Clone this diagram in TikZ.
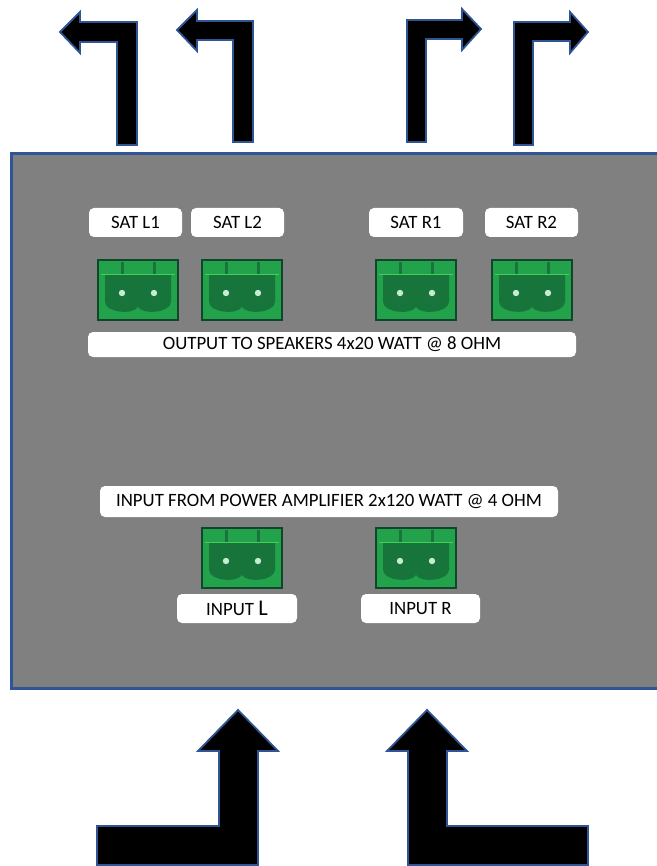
\documentclass[tikz,border=0pt]{standalone}
\usepackage{fontspec}
\setmainfont{Carlito}
\definecolor{edgeblue}{HTML}{2F5597}
\definecolor{boxgray}{HTML}{808080}
\definecolor{tgreen}{HTML}{22A24A}
\definecolor{tdark}{HTML}{17743A}
\definecolor{tborder}{HTML}{12462A}
\definecolor{tdot}{HTML}{C9EBD3}
\begin{document}
\begin{tikzpicture}[x=1pt,y=-1pt,
  bigarrow/.style={fill=black,draw=edgeblue,line width=1.8pt,line join=miter},
  lbl/.style={fill=white,rounded corners=5pt,inner sep=0pt,font=\fontsize{18.8}{21}\selectfont,text=black},
  term/.pic={
    \fill[tgreen,draw=tborder,line width=1.2pt] (0,0) rectangle (80,60);
    \fill[tdark] (7,15) -- (73,15) -- (73,42)
      .. controls (72,53) and (45,55) .. (40,47)
      .. controls (35,55) and (8,53) .. (7,42) -- cycle;
    \draw[green!60!white,opacity=0.5,line width=0.6pt] (3,14) -- (77,14);
    \fill[tdark] (23,2) rectangle (26,14);
    \fill[tdark] (55,2) rectangle (58,14);
    \fill[tdot] (24,33) circle (3.2);
    \fill[tdot] (56,33) circle (3.2);
  }]
\useasboundingbox (0,0) rectangle (656,866);

% main gray panel
\draw[fill=boxgray,draw=edgeblue,line width=3pt] (11,154) rectangle (662,688);

% top arrows
\draw[bigarrow] (60,32) -- (80,12) -- (80,22) -- (137,22) -- (137,145) -- (117,145) -- (117,42) -- (80,42) -- (80,53) -- cycle;
\draw[bigarrow] (177,30) -- (197,10) -- (197,21) -- (253,21) -- (253,142) -- (233,142) -- (233,40) -- (197,40) -- (197,51) -- cycle;
\draw[bigarrow] (481,29) -- (462,9) -- (462,20) -- (407,20) -- (407,142) -- (426,142) -- (426,39) -- (462,39) -- (462,50) -- cycle;
\draw[bigarrow] (588,32) -- (570,12) -- (570,22) -- (514,22) -- (514,145) -- (533,145) -- (533,41) -- (570,41) -- (570,53) -- cycle;

% bottom arrows
\draw[bigarrow] (238,710) -- (278,751) -- (258,751) -- (258,865) -- (97,865) -- (97,826) -- (219,826) -- (219,751) -- (198,751) -- cycle;
\draw[bigarrow] (427,710) -- (467,751) -- (447,751) -- (447,826) -- (588,826) -- (588,865) -- (408,865) -- (408,751) -- (387,751) -- cycle;

% labels
\node[lbl,minimum width=93pt,minimum height=29pt] (satl1) at (135.5,222.5) {SAT L1};
\node[lbl,minimum width=93pt,minimum height=29pt] (satl2) at (237.5,222.5) {SAT L2};
\node[lbl,minimum width=94pt,minimum height=29pt] (satr1) at (416,222.5) {SAT R1};
\node[lbl,minimum width=93pt,minimum height=29pt] (satr2) at (531.5,222.5) {SAT R2};
\node[lbl,minimum width=488pt,minimum height=25pt] (out) at (332,344.5) {OUTPUT TO SPEAKERS 4x20 WATT @ 8 OHM};
\node[lbl,minimum width=458pt,minimum height=31pt] (in) at (329,501.5) {INPUT FROM POWER AMPLIFIER 2x120 WATT @ 4 OHM};
\node[lbl,minimum width=120pt,minimum height=29pt] (inl) at (237,608.5) {INPUT {\fontsize{22.5}{23}\selectfont L}};
\node[lbl,minimum width=119pt,minimum height=29pt] (inr) at (420.5,608.5) {INPUT R};

% terminals
\pic at (98,260) {term};
\pic at (202,260) {term};
\pic at (376,260) {term};
\pic at (492,260) {term};
\pic at (202,528) {term};
\pic at (376,528) {term};
\end{tikzpicture}
\end{document}
